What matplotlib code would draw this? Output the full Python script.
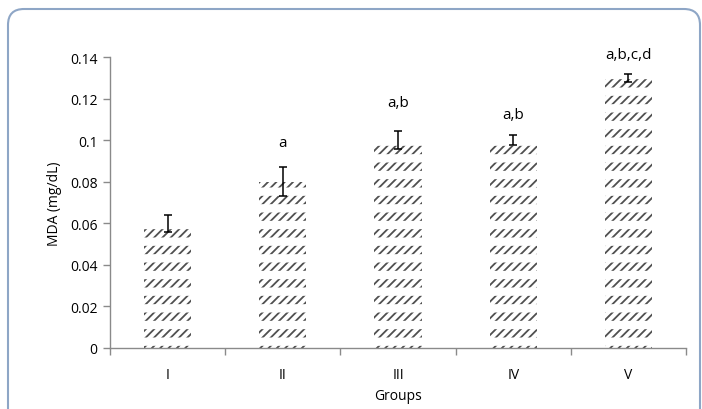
import matplotlib
matplotlib.use("Agg")
import matplotlib.pyplot as plt
from matplotlib.patches import FancyBboxPatch
from matplotlib.transforms import IdentityTransform
import numpy as np

groups = ["I", "II", "III", "IV", "V"]
mda = [0.06, 0.08, 0.10, 0.10, 0.13]
err = [0.004, 0.007, 0.0045, 0.0025, 0.002]
sig = ["", "a", "a,b", "a,b", "a,b,c,d"]
sig_y = [0.0, 0.099, 0.118, 0.1125, 0.1414]
yticks = [0, 0.02, 0.04, 0.06, 0.08, 0.1, 0.12, 0.14]
ytick_labels = ["0", "0.02", "0.04", "0.06", "0.08", "0.1", "0.12", "0.14"]

plt.rcParams['font.family'] = ['Open Sans', 'DejaVu Sans']

fig = plt.figure(figsize=(7.02, 4.10), dpi=100)
# outer rounded frame (pixel coordinates)
frame = FancyBboxPatch((8, -30), 692, 430,
                       boxstyle="round,pad=0,rounding_size=16",
                       transform=IdentityTransform(), facecolor='none',
                       edgecolor='#8ea6c6', linewidth=1.5)
fig.patches.append(frame)

ax = fig.add_axes([110/702, 61/410, (686-110)/702, (349-58)/410])
x = np.arange(len(groups))
width = 0.41

with plt.rc_context({'hatch.linewidth': 1.3}):
    ax.bar(x, mda, width, facecolor='white', edgecolor='#505050', linewidth=0,
           hatch='////', zorder=2)
with plt.rc_context({'hatch.linewidth': 6.0}):
    ax.bar(x, mda, width, facecolor='none', edgecolor='white', linewidth=0,
           hatch='-', zorder=3)

ax.errorbar(x, mda, yerr=err, fmt='none', ecolor='black', elinewidth=1.1,
            capsize=3, capthick=1.1, zorder=4)

for xi, s, ys in zip(x, sig, sig_y):
    if s:
        ax.text(xi, ys, s, ha='center', va='center', fontsize=11, clip_on=False)

ax.set_xlim(-0.5, len(groups) - 0.5)
ax.set_ylim(0, 0.14)
ax.set_yticks(yticks)
ax.set_yticklabels(ytick_labels, fontsize=10)
ax.set_xticks(x)
ax.set_xticklabels(groups, fontsize=10)
ax.set_xticks(np.arange(len(groups) + 1) - 0.5, minor=True)
ax.tick_params(axis='x', which='major', length=0, pad=14)
ax.tick_params(axis='x', which='minor', length=5, color='#8a8a8a', width=1)
ax.tick_params(axis='y', length=5, color='#8a8a8a', width=1, pad=4)
for side in ['top', 'right']:
    ax.spines[side].set_visible(False)
for side in ['left', 'bottom']:
    ax.spines[side].set_color('#8a8a8a')
    ax.spines[side].set_linewidth(1)

ax.set_ylabel("MDA (mg/dL)", fontsize=10, labelpad=6)
ax.set_xlabel("Groups", fontsize=10, labelpad=4)

fig.savefig("out.png", dpi=100)
